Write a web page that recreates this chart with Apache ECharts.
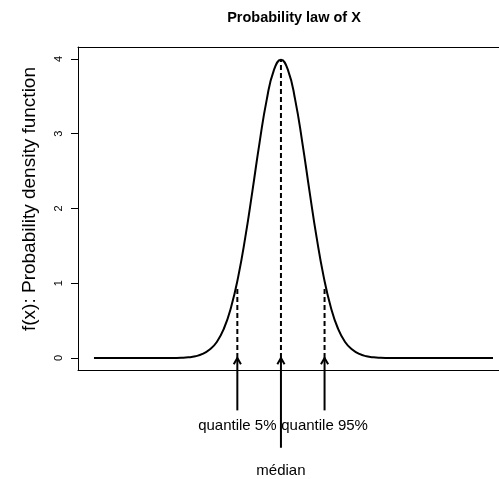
<!DOCTYPE html>
<html>
<head>
<meta charset="utf-8">
<script src="https://cdn.jsdelivr.net/npm/echarts@6/dist/echarts.min.js"></script>
<style>
  html, body { margin: 0; padding: 0; background: #fff; }
  #chart { width: 499px; height: 479px; }
</style>
</head>
<body>
<div id="chart"></div>
<script>
// Density curve of X, sampled along x
const curveX = [
  -0.656, -0.6, -0.5, -0.45,
  -0.425, -0.4, -0.375, -0.35, -0.325, -0.3, -0.275, -0.25, -0.225, -0.2,
  -0.175, -0.15, -0.125, -0.1, -0.075, -0.05, -0.025, 0,
  0.025, 0.05, 0.075, 0.1, 0.125, 0.15, 0.175,
  0.2, 0.225, 0.25, 0.275, 0.3, 0.325, 0.35, 0.375, 0.4, 0.425,
  0.45, 0.5, 0.6, 0.744
];
const curveY = [
  0, 0, 0, 0,
  0.0001, 0.0005, 0.0013, 0.0035, 0.0095, 0.024, 0.055, 0.115, 0.215, 0.395,
  0.68, 1.086, 1.616, 2.237, 2.882, 3.453, 3.848, 3.99,
  3.848, 3.453, 2.882, 2.237, 1.616, 1.086, 0.68,
  0.395, 0.215, 0.115, 0.055, 0.024, 0.0095, 0.0035, 0.0013, 0.0005, 0.0001,
  0, 0, 0, 0
];

// Y axis tick values
const yTicks = [0, 1, 2, 3, 4];

// Quantile / median markers
const markerNames = ['quantile 5%', 'médian', 'quantile 95%'];
const markerX = [-0.153, 0, 0.153];
const markerTop = [0.93, 3.99, 0.93];     // top of the dashed guide
const arrowTail = [-0.70, -1.20, -0.70];  // start of the arrow below the plot
const labelY = [-0.91, -1.51, -0.91];     // text position of each marker label

const FONT = '"Liberation Sans", Arial, Helvetica, sans-serif';

const chart = echarts.init(document.getElementById('chart'), null, { renderer: 'canvas' });

const markerData = markerX.map((x, i) => [x, markerTop[i], arrowTail[i], labelY[i], i]);

// x range of the plot frame; the frame runs on past the right edge of the canvas
const X_MIN = -0.712, X_MAX = 0.765;

const frameLine = { show: true, onZero: false, lineStyle: { color: '#000', width: 1 } };

chart.setOption({
  animation: false,
  backgroundColor: '#ffffff',
  grid: {
    show: false,
    left: 78, top: 47, right: 0, height: 323
  },
  xAxis: [
    {
      type: 'value', position: 'bottom',
      min: X_MIN, max: X_MAX,
      axisLine: frameLine,
      axisTick: { show: false }, axisLabel: { show: false }, splitLine: { show: false }
    },
    {
      type: 'value', position: 'top',
      min: X_MIN, max: X_MAX,
      axisLine: frameLine,
      axisTick: { show: false }, axisLabel: { show: false }, splitLine: { show: false }
    }
  ],
  yAxis: {
    type: 'value',
    min: -0.16, max: 4.16,
    axisLine: frameLine,
    splitLine: { show: false },
    axisTick: {
      show: true, inside: false, length: 7,
      customValues: yTicks,
      lineStyle: { color: '#000', width: 1 }
    },
    axisLabel: {
      show: true,
      customValues: yTicks,
      rotate: 90,
      margin: 14,
      color: '#000',
      fontSize: 11,
      fontFamily: FONT
    }
  },
  graphic: [
    {
      type: 'text',
      x: 294, y: 18,
      style: {
        text: 'Probability law of X',
        align: 'center', verticalAlign: 'middle',
        font: 'bold 14.5px ' + FONT,
        fill: '#000'
      }
    },
    {
      type: 'text',
      x: 30, y: 199,
      rotation: Math.PI / 2,
      style: {
        text: 'f(x): Probability density function',
        align: 'center', verticalAlign: 'middle',
        font: '19px ' + FONT,
        fill: '#000'
      }
    }
  ],
  series: [
    {
      type: 'line',
      xAxisIndex: 0,
      data: curveX.map((x, i) => [x, curveY[i]]),
      showSymbol: false,
      smooth: true,
      lineStyle: { color: '#000', width: 2 }
    },
    {
      type: 'custom',
      xAxisIndex: 0,
      clip: false,
      data: markerData,
      renderItem: function (params, api) {
        const x = api.value(0);
        const base = api.coord([x, 0]);
        const top = api.coord([x, api.value(1)]);
        const tail = api.coord([x, api.value(2)]);
        const lab = api.coord([x, api.value(3)]);
        const name = markerNames[api.value(4)];
        const headHalf = 3.6, headRise = 6.2;
        const stroke = { stroke: '#000', lineWidth: 2, fill: null };
        return {
          type: 'group',
          children: [
            {
              type: 'line',
              shape: { x1: base[0], y1: base[1], x2: top[0], y2: top[1] },
              style: { stroke: '#000', lineWidth: 2, lineDash: [5, 3] }
            },
            {
              type: 'line',
              shape: { x1: tail[0], y1: tail[1], x2: base[0], y2: base[1] },
              style: stroke
            },
            {
              type: 'polyline',
              shape: { points: [
                [base[0] - headHalf, base[1] + headRise],
                [base[0], base[1]],
                [base[0] + headHalf, base[1] + headRise]
              ] },
              style: stroke
            },
            {
              type: 'text',
              x: lab[0], y: lab[1],
              style: {
                text: name,
                align: 'center', verticalAlign: 'middle',
                font: '15px ' + FONT,
                fill: '#000'
              }
            }
          ]
        };
      }
    }
  ]
});
</script>
</body>
</html>
